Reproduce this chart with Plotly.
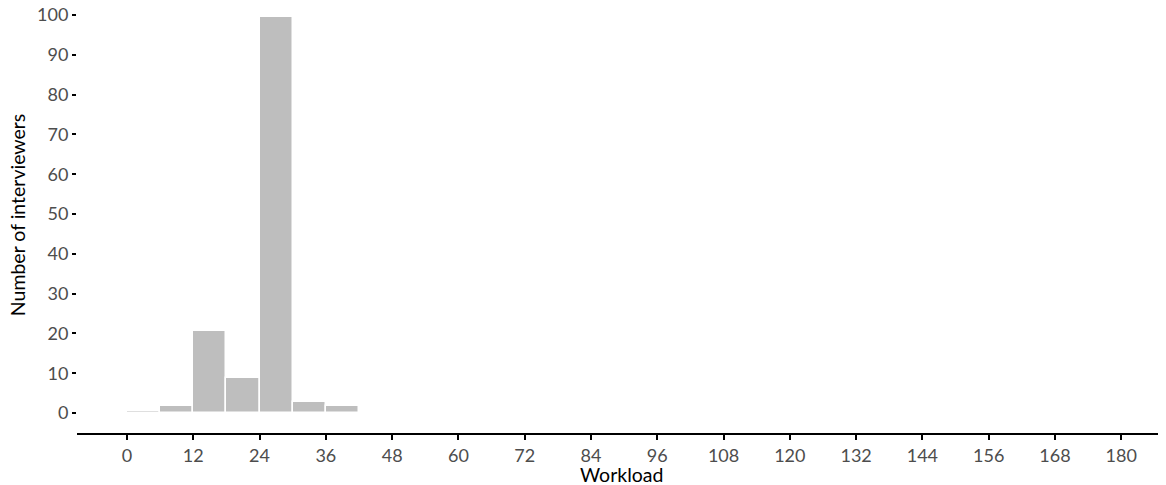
import plotly.graph_objects as go

# Histogram bins (workload, width 6) and counts
bin_starts = [0, 6, 12, 18, 24, 30, 36]
bin_width = 6
counts = [0.6, 1.7, 20.7, 8.7, 99.6, 2.7, 1.7]
x_ticks = list(range(0, 181, 12))
y_ticks = list(range(0, 101, 10))
x_title = "Workload"
y_title = "Number of interviewers"

centers = [s + bin_width / 2 for s in bin_starts]

fig = go.Figure(
    go.Bar(
        x=centers,
        y=counts,
        width=bin_width,
        marker=dict(color="#BEBEBE", line=dict(color="white", width=1.5)),
        hoverinfo="x+y",
    )
)

FONT = "Lato, 'Open Sans', sans-serif"
tick_font = dict(family=FONT, size=18, color="#4D4D4D")
title_font = dict(family=FONT, size=19.5, color="black")

# the page body adds an 8px margin, so the figure is sized to fit the window
OFF = 8
W, H = 1166 - OFF, 485 - OFF
ml, mr, mt = 76.7 - OFF, 0, 0
mb = H - (433.3 - OFF)
pw, ph = W - ml - mr, H - mt - mb

fig.update_layout(
    width=W,
    height=H,
    margin=dict(l=ml, r=mr, t=mt, b=mb, pad=0, autoexpand=False),
    plot_bgcolor="white",
    paper_bgcolor="white",
    showlegend=False,
    bargap=0,
    xaxis=dict(
        range=[-9.05, 188.1],
        tickvals=x_ticks,
        ticktext=[str(v) for v in x_ticks],
        ticks="outside",
        ticklen=5,
        tickwidth=2,
        tickcolor="black",
        showline=True,
        linecolor="black",
        linewidth=2,
        showgrid=False,
        zeroline=False,
        tickfont=tick_font,
        automargin=False,
        ticklabeloverflow="allow",
    ),
    yaxis=dict(
        range=[-5.02, 101.76],
        tickvals=y_ticks,
        ticktext=[str(v) for v in y_ticks],
        ticks="outside",
        ticklen=4,
        tickwidth=2,
        tickcolor="black",
        showline=False,
        showgrid=False,
        zeroline=False,
        tickfont=tick_font,
        automargin=False,
        ticklabeloverflow="allow",
    ),
    annotations=[
        dict(
            text=x_title,
            xref="paper",
            yref="paper",
            x=0.5,
            y=-((475 - OFF) - ph) / ph,
            xanchor="center",
            yanchor="middle",
            showarrow=False,
            font=title_font,
        ),
        dict(
            text=y_title,
            xref="paper",
            yref="paper",
            x=((18 - OFF) - ml) / pw,
            y=1 - (215 - OFF) / ph,
            xanchor="center",
            yanchor="middle",
            textangle=-90,
            showarrow=False,
            font=title_font,
        ),
    ],
)

fig.write_html("out.html")
